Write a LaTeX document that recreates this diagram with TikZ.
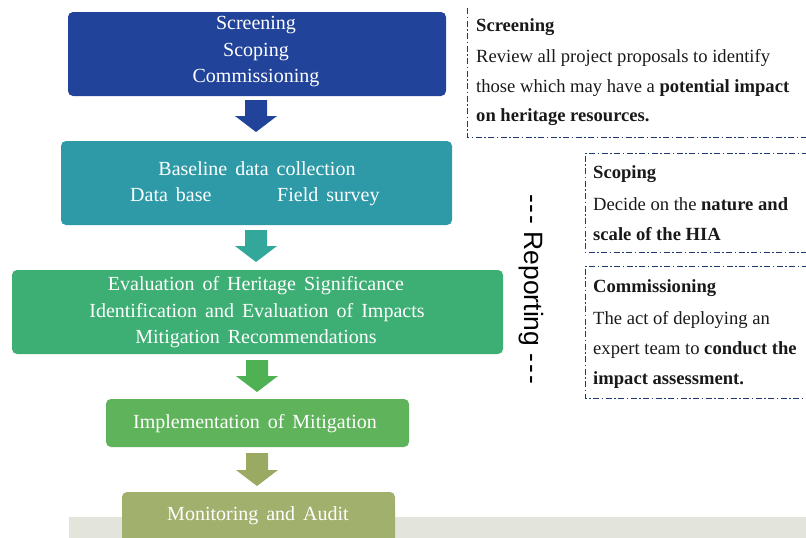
\documentclass[tikz,border=0pt]{standalone}
\usepackage{fontspec}
\setmainfont{Liberation Serif}
\newfontfamily\repfont{Liberation Sans}
\usetikzlibrary{calc}
\definecolor{cA}{RGB}{33,68,154}
\definecolor{cB}{RGB}{46,154,167}
\definecolor{cC}{RGB}{61,174,116}
\definecolor{cD}{RGB}{95,179,90}
\definecolor{cE}{RGB}{162,176,109}
\definecolor{aB}{RGB}{51,168,154}
\definecolor{aC}{RGB}{78,177,83}
\definecolor{aD}{RGB}{154,170,99}
\definecolor{band}{RGB}{227,229,221}
\definecolor{navy}{RGB}{31,56,110}
\definecolor{ink}{RGB}{25,25,25}
\newcommand{\widesp}{\spaceskip=0.4em plus 0.1em\relax}
\tikzset{
  mainbox/.style={rounded corners=5pt, draw=none},
  maintext/.style={text=white, font=\fontsize{20}{26}\selectfont\widesp, align=center, inner sep=0pt},
  sidetext/.style={text=ink, font=\fontsize{18.6}{20}\selectfont, anchor=base west, inner sep=0pt},
  dashdot/.style={draw=navy, line width=0.9pt, dash pattern=on 6pt off 2.5pt on 1.5pt off 2.5pt},
}
\newcommand{\blockarrow}[4]{% color, center x, top y, tip y
  \fill[#1] ({#2-11},#3) -- ({#2+11},#3) -- ({#2+11},{#4-16}) -- ({#2+21},{#4-16})
    -- (#2,#4) -- ({#2-21},{#4-16}) -- ({#2-11},{#4-16}) -- cycle;}
\newcommand{\hyph}{-\kern1.8pt-\kern1.8pt-}
\begin{document}
\begin{tikzpicture}[x=1pt,y=-1pt]
\useasboundingbox (0,0) rectangle (806,538);
\clip (0,0) rectangle (806,538);
% bottom band
\fill[band] (69,517) rectangle (806,538);
% main boxes
\fill[mainbox, cA] (68,12) rectangle (446,96);
\fill[mainbox, cB] (61,141) rectangle (452,225);
\fill[mainbox, cC] (12,270) rectangle (503,354);
\fill[mainbox, cD] (106,399) rectangle (409,447);
\fill[mainbox, cE] (122,492) rectangle (395,560);
% texts of main boxes
\node[maintext, anchor=base] (t1a) at (256,29) {Screening};
\node[maintext, anchor=base] (t1b) at (256,56) {Scoping};
\node[maintext, anchor=base] (t1c) at (256,82) {Commissioning};
\node[maintext, anchor=base] (t2a) at (257,175) {Baseline data collection};
\node[maintext, anchor=base west] (t2b) at (130,201) {Data base};
\node[maintext, anchor=base west] (t2c) at (277,201) {Field survey};
\node[maintext, anchor=base] (t3a) at (256,290) {Evaluation of Heritage Significance};
\node[maintext, anchor=base] (t3b) at (257,317) {Identification and Evaluation of Impacts};
\node[maintext, anchor=base] (t3c) at (256,343) {Mitigation Recommendations};
\node[maintext, anchor=base] (t4) at (255,428) {Implementation of Mitigation};
\node[maintext, anchor=base] (t5) at (258,520) {Monitoring and Audit};
% block arrows
\blockarrow{cA}{256}{100}{132}
\blockarrow{aB}{256}{230}{262}
\blockarrow{aC}{257}{360}{392}
\blockarrow{aD}{257}{453}{486}
% Reporting
\node[rotate=-90, font=\repfont\fontsize{26.5}{28}\selectfont, text=black, inner sep=0pt] (rep) at (531,289) {\hyph\ Reporting \hyph};
% dashed side boxes
\draw[dashdot] (467,8) -- (467,137) -- (820,137);
\draw[dashdot] (820,153) -- (585,153) -- (585,252) -- (820,252);
\draw[dashdot] (820,266) -- (585,266) -- (585,398) -- (820,398);
% screening text
\node[sidetext] (s1) at (476,31) {\textbf{Screening}};
\node[sidetext] (s2) at (476,62) {Review all project proposals to identify};
\node[sidetext] (s3) at (476,92) {those which may have a \textbf{potential impact}};
\node[sidetext] (s4) at (476,121) {\textbf{on heritage resources.}};
% scoping text
\node[sidetext] (p1) at (593,178) {\textbf{Scoping}};
\node[sidetext] (p2) at (593,210) {Decide on the \textbf{nature and}};
\node[sidetext] (p3) at (593,240) {\textbf{scale of the HIA}};
% commissioning text
\node[sidetext] (c1) at (593,292) {\textbf{Commissioning}};
\node[sidetext] (c2) at (593,324) {The act of deploying an};
\node[sidetext] (c3) at (593,354) {expert team to \textbf{conduct the}};
\node[sidetext] (c4) at (593,384) {\textbf{impact assessment.}};
\end{tikzpicture}
\end{document}
